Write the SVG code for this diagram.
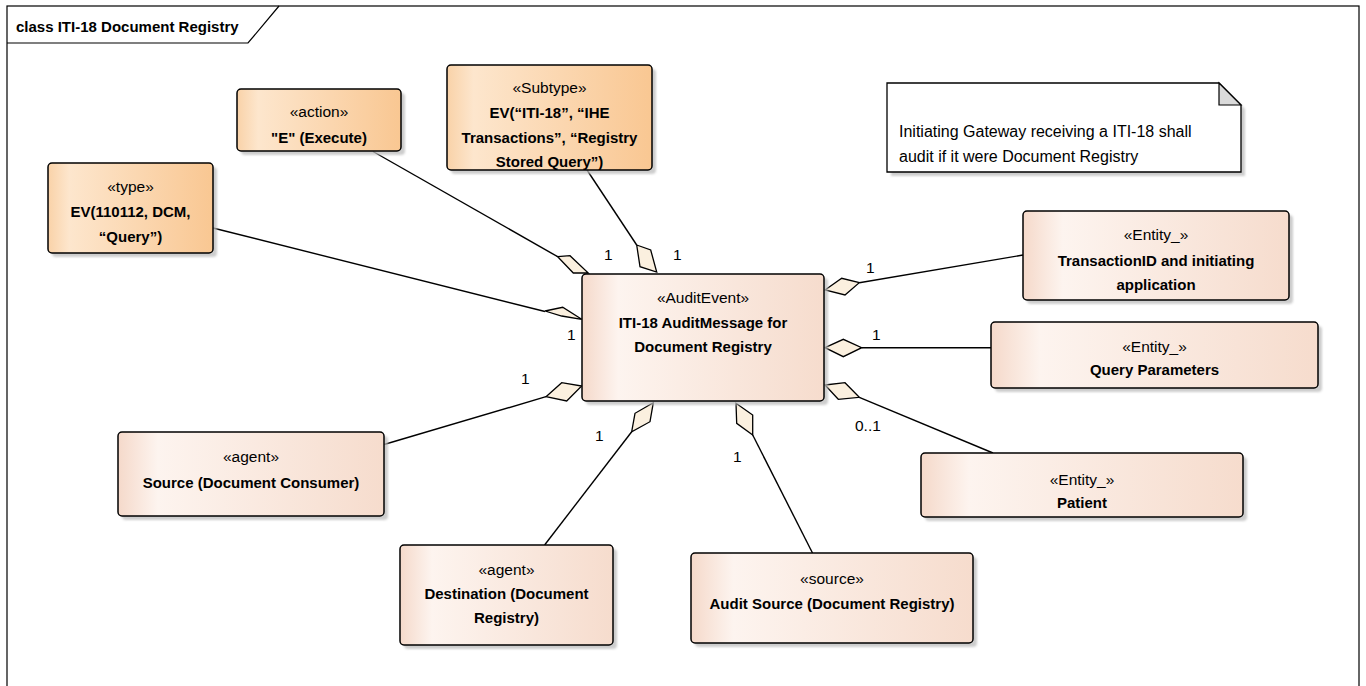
<svg xmlns="http://www.w3.org/2000/svg" width="1366" height="686" viewBox="0 0 1366 686">
<defs>
<linearGradient id="og" x1="0" y1="0" x2="1" y2="0">
<stop offset="0" stop-color="#F9D2A8"/>
<stop offset="0.13" stop-color="#FDE6CD"/>
<stop offset="1" stop-color="#F9C792"/>
</linearGradient>
<linearGradient id="pg" x1="0" y1="0" x2="1" y2="0">
<stop offset="0" stop-color="#F5D9CA"/>
<stop offset="0.15" stop-color="#FDF4EF"/>
<stop offset="1" stop-color="#F6DCCD"/>
</linearGradient>
<filter id="sh" x="-5%" y="-5%" width="115%" height="125%">
<feGaussianBlur stdDeviation="1.2"/>
</filter>
<style>
.box{stroke:#000;stroke-width:1.5}
.or{fill:url(#og)}
.pk{fill:url(#pg)}
.shd{fill:#bdbdbd;opacity:0.75;filter:url(#sh)}
.st{font-family:"Liberation Sans",Arial,sans-serif;font-size:15.5px;text-anchor:middle;fill:#000}
.nm{font-family:"Liberation Sans",Arial,sans-serif;font-size:15px;font-weight:bold;text-anchor:middle;fill:#000}
.ml{font-family:"Liberation Sans",Arial,sans-serif;font-size:15.5px;fill:#000}
.nt{font-family:"Liberation Sans",Arial,sans-serif;font-size:16px;fill:#000}
.dia{fill:#FBF0DF;stroke:#000;stroke-width:1.3;stroke-linejoin:miter}
.ln{stroke:#000;stroke-width:1.4;fill:none}
</style>
</defs>
<rect x="0" y="0" width="1366" height="686" fill="#fff"/>
<g id="frame">
<rect x="7" y="6" width="1352" height="700" fill="none" stroke="#000" stroke-width="1.2"/>
<path d="M7 43 L248 43 L279 6" fill="none" stroke="#000" stroke-width="1.2"/>
<text x="16" y="32" style="font-family:'Liberation Sans',Arial,sans-serif;font-size:15px;font-weight:bold">class ITI-18 Document Registry</text>
</g>
<g id="connectors">
<line class="ln" x1="213" y1="228" x2="545" y2="311.5"/>
<line class="ln" x1="373" y1="151.5" x2="557.7" y2="256.7"/>
<line class="ln" x1="587" y1="170" x2="636.7" y2="245"/>
<line class="ln" x1="859.3" y1="282.7" x2="1023" y2="255"/>
<line class="ln" x1="861.7" y1="347.7" x2="991" y2="347.7"/>
<line class="ln" x1="859.3" y1="397.3" x2="993" y2="453"/>
<line class="ln" x1="752.7" y1="435" x2="812.5" y2="553"/>
<line class="ln" x1="631.7" y1="431.7" x2="544.6" y2="545"/>
<line class="ln" x1="546" y1="396.7" x2="384" y2="444.5"/>
<polygon class="dia" points="557.7,256.7 570,255.7 588.3,273 573.3,273"/>
<polygon class="dia" points="545,311 562.7,307.3 581.7,319.3 561.7,316"/>
<polygon class="dia" points="636.7,245 650.7,250 656.7,272 640,266.7"/>
<polygon class="dia" points="825,290 841.7,278.3 859.3,282.7 845,295"/>
<polygon class="dia" points="825,347.7 843.3,339.3 861.7,347.7 843.3,356.7"/>
<polygon class="dia" points="825,385 845,382.7 859.3,397.3 838.3,399.3"/>
<polygon class="dia" points="736,403.3 752.7,415 752.7,435 736.7,423.3"/>
<polygon class="dia" points="546,396.7 561.7,382.7 581.7,386 566.7,401"/>
<polygon class="dia" points="631.7,431.7 635,413.3 653.3,402.7 650,421.7"/>
<text class="ml" x="604" y="260">1</text>
<text class="ml" x="673" y="260">1</text>
<text class="ml" x="567" y="340">1</text>
<text class="ml" x="866" y="273">1</text>
<text class="ml" x="872" y="340">1</text>
<text class="ml" x="855" y="431">0..1</text>
<text class="ml" x="521" y="384">1</text>
<text class="ml" x="595" y="441">1</text>
<text class="ml" x="733" y="462">1</text>
</g>
<g id="type">
<rect class="shd" x="52" y="167" width="165" height="90" rx="4"/>
<rect class="box or" x="48" y="163" width="165" height="90" rx="4"/>
<text class="st" x="130.5" y="192">«type»</text>
<text class="nm" x="130.5" y="217">EV(110112, DCM,</text>
<text class="nm" x="130.5" y="242">“Query”)</text>
</g>
<g id="action">
<rect class="shd" x="241" y="93" width="164" height="62" rx="4"/>
<rect class="box or" x="237" y="89" width="164" height="62" rx="4"/>
<text class="st" x="319" y="117">«action»</text>
<text class="nm" x="319" y="143">"E" (Execute)</text>
</g>
<g id="subtype">
<rect class="shd" x="451" y="69" width="205" height="105" rx="4"/>
<rect class="box or" x="447" y="65" width="205" height="105" rx="4"/>
<text class="st" x="549.5" y="93">«Subtype»</text>
<text class="nm" x="549.5" y="118">EV(“ITI-18”, “IHE</text>
<text class="nm" x="549.5" y="142.5">Transactions”, “Registry</text>
<text class="nm" x="549.5" y="166.5">Stored Query”)</text>
</g>
<g id="note">
<polygon class="shd" points="891,87 1223,87 1245,109 1245,176 891,176"/>
<polygon points="887,83 1219,83 1241,105 1241,172 887,172" fill="#fff" stroke="#000" stroke-width="1.3"/>
<polygon points="1219,83 1219,105 1241,105" fill="#DADADA" stroke="#000" stroke-width="1.2"/>
<text class="nt" x="899" y="137">Initiating Gateway receiving a ITI-18 shall</text>
<text class="nt" x="899" y="161.5">audit if it were Document Registry</text>
</g>
<g id="auditevent">
<rect class="shd" x="586" y="278" width="242" height="127" rx="4"/>
<rect class="box pk" x="582" y="274" width="242" height="127" rx="4"/>
<text class="st" x="703" y="303">«AuditEvent»</text>
<text class="nm" x="703" y="327.5">ITI-18 AuditMessage for</text>
<text class="nm" x="703" y="352">Document Registry</text>
</g>
<g id="transactionid">
<rect class="shd" x="1027" y="215" width="266" height="89" rx="4"/>
<rect class="box pk" x="1023" y="211" width="266" height="89" rx="4"/>
<text class="st" x="1156" y="240">«Entity_»</text>
<text class="nm" x="1156" y="266">TransactionID and initiating</text>
<text class="nm" x="1156" y="290">application</text>
</g>
<g id="queryparams">
<rect class="shd" x="995" y="326" width="327" height="66" rx="4"/>
<rect class="box pk" x="991" y="322" width="327" height="66" rx="4"/>
<text class="st" x="1154.5" y="351.5">«Entity_»</text>
<text class="nm" x="1154.5" y="375">Query Parameters</text>
</g>
<g id="patient">
<rect class="shd" x="925" y="457" width="322" height="64" rx="4"/>
<rect class="box pk" x="921" y="453" width="322" height="64" rx="4"/>
<text class="st" x="1082" y="485">«Entity_»</text>
<text class="nm" x="1082" y="507.5">Patient</text>
</g>
<g id="source">
<rect class="shd" x="122" y="436" width="266" height="84" rx="4"/>
<rect class="box pk" x="118" y="432" width="266" height="84" rx="4"/>
<text class="st" x="251" y="462">«agent»</text>
<text class="nm" x="251" y="487.5">Source (Document Consumer)</text>
</g>
<g id="destination">
<rect class="shd" x="404" y="549" width="213" height="100" rx="4"/>
<rect class="box pk" x="400" y="545" width="213" height="100" rx="4"/>
<text class="st" x="506.5" y="575">«agent»</text>
<text class="nm" x="506.5" y="599">Destination (Document</text>
<text class="nm" x="506.5" y="623">Registry)</text>
</g>
<g id="auditsource">
<rect class="shd" x="695" y="557" width="282" height="90" rx="4"/>
<rect class="box pk" x="691" y="553" width="282" height="90" rx="4"/>
<text class="st" x="832" y="584">«source»</text>
<text class="nm" x="832" y="609">Audit Source (Document Registry)</text>
</g>
</svg>
